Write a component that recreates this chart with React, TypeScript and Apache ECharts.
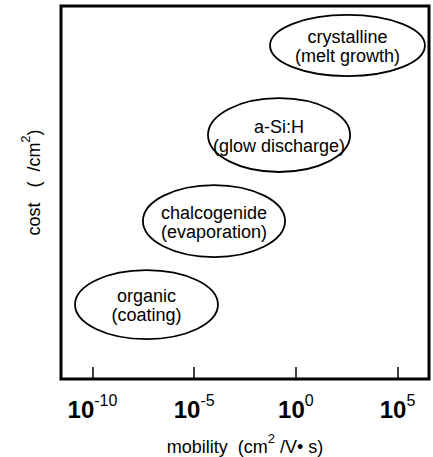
import React, { useEffect, useRef } from "react";
import * as echarts from "echarts";

// Ellipse regions: mobility range (log10 exponent) and relative cost range (0-100)
const ELLIPSE_LABELS = [
  "organic\n(coating)",
  "chalcogenide\n(evaporation)",
  "a-Si:H\n(glow discharge)",
  "crystalline\n(melt growth)",
];
const MOBILITY_MIN_EXP = [-10.86, -7.52, -4.32, -1.27];
const MOBILITY_MAX_EXP = [-3.83, -0.53, 2.67, 6.35];
const COST_LOW = [10.7, 32.7, 55.5, 81.2];
const COST_HIGH = [29.2, 52.0, 75.3, 97.6];
const TICK_EXPONENTS = [-10, -5, 0, 5];

const FONT = "'Liberation Sans', Arial, Helvetica, sans-serif";

export default function App() {
  const ref = useRef<HTMLDivElement>(null);

  useEffect(() => {
    if (!ref.current) return;
    const chart = echarts.init(ref.current, undefined, { renderer: "svg" });
    const data = ELLIPSE_LABELS.map((_, i) => [
      MOBILITY_MIN_EXP[i],
      MOBILITY_MAX_EXP[i],
      COST_LOW[i],
      COST_HIGH[i],
    ]);
    chart.setOption({
      animation: false,
      grid: {
        left: 61,
        right: 4,
        top: 6,
        bottom: 78,
        outerBoundsMode: "none",
        containLabel: false,
        show: true,
        borderColor: "#000",
        borderWidth: 3,
        backgroundColor: "transparent",
      },
      xAxis: {
        type: "value",
        min: -11.55,
        max: 6.55,
        axisLine: { show: false },
        splitLine: { show: false },
        axisTick: {
          show: true,
          inside: true,
          length: 12,
          customValues: TICK_EXPONENTS,
          lineStyle: { color: "#000", width: 1.5 },
        },
        axisLabel: {
          customValues: TICK_EXPONENTS,
          margin: 13,
          color: "#000",
          fontFamily: FONT,
          formatter: (v: number) => `{b|10}{s|${v}}`,
          rich: {
            b: {
              fontSize: 24,
              fontWeight: "bold",
              fontFamily: FONT,
              color: "#000",
              lineHeight: 22,
              padding: [5, 0, 0, 0],
              verticalAlign: "top",
            },
            s: {
              fontSize: 16,
              fontFamily: FONT,
              color: "#000",
              lineHeight: 16,
              verticalAlign: "top",
            },
          },
        },
        name: "{n|mobility\u00a0\u00a0(cm}{sup|2}{n|\u00a0/V\u2022\u00a0s)}",
        nameLocation: "middle",
        nameGap: 53,
        nameTextStyle: {
          color: "#000",
          fontFamily: FONT,
          rich: {
            n: {
              fontSize: 18,
              fontFamily: FONT,
              color: "#000",
              lineHeight: 20,
              padding: [6, 0, 0, 0],
              verticalAlign: "top",
            },
            sup: {
              fontSize: 13,
              fontFamily: FONT,
              color: "#000",
              lineHeight: 12,
              verticalAlign: "top",
            },
          },
        },
      },
      yAxis: {
        type: "value",
        min: 0,
        max: 100,
        axisLine: { show: false },
        axisTick: { show: false },
        axisLabel: { show: false },
        splitLine: { show: false },
        name: "{n|cost\u00a0\u00a0\u00a0(\u00a0\u00a0/cm}{sup|2}{n|)}",
        nameLocation: "middle",
        nameGap: 22,
        nameTextStyle: {
          color: "#000",
          fontFamily: FONT,
          padding: [0, 0, 0, 20],
          rich: {
            n: {
              fontSize: 18,
              fontFamily: FONT,
              color: "#000",
              lineHeight: 20,
              padding: [6, 0, 0, 0],
              verticalAlign: "top",
            },
            sup: {
              fontSize: 13,
              fontFamily: FONT,
              color: "#000",
              lineHeight: 12,
              verticalAlign: "top",
            },
          },
        },
      },
      series: [
        {
          type: "custom",
          encode: { x: [0, 1], y: [2, 3] },
          data,
          renderItem: (params: any, api: any) => {
            const p0 = api.coord([api.value(0), api.value(2)]);
            const p1 = api.coord([api.value(1), api.value(3)]);
            const cx = (p0[0] + p1[0]) / 2;
            const cy = (p0[1] + p1[1]) / 2;
            const rx = Math.abs(p1[0] - p0[0]) / 2;
            const ry = Math.abs(p1[1] - p0[1]) / 2;
            return {
              type: "group",
              children: [
                {
                  type: "ellipse",
                  shape: { cx, cy, rx, ry },
                  style: { fill: "transparent", stroke: "#000", lineWidth: 1.8 },
                },
                {
                  type: "text",
                  style: {
                    text: ELLIPSE_LABELS[params.dataIndex],
                    x: cx,
                    y: cy + 1,
                    align: "center",
                    verticalAlign: "middle",
                    fontSize: 18,
                    lineHeight: 19,
                    fontFamily: FONT,
                    fill: "#000",
                  },
                },
              ],
            };
          },
        },
      ],
    });
    return () => chart.dispose();
  }, []);

  return (
    <div
      ref={ref}
      style={{ position: "fixed", left: 0, top: 0, width: 433, height: 457, background: "#fff" }}
    />
  );
}
